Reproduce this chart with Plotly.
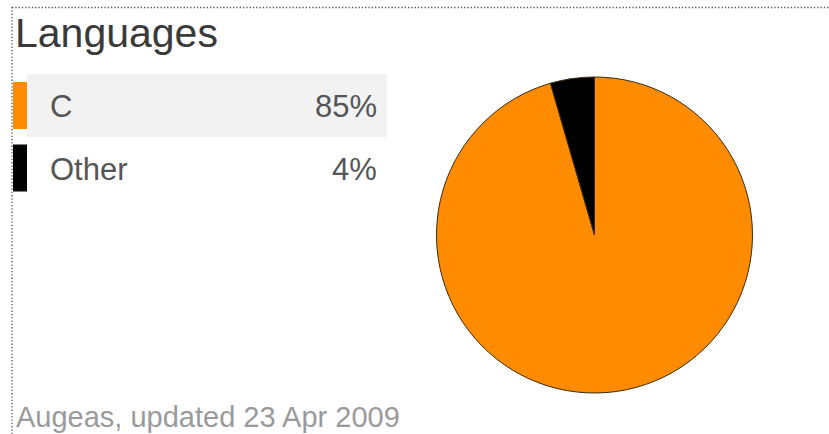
import plotly.graph_objects as go

# ---- data ----
languages = ["C", "Other"]
shares = [85, 4]
colors = ["#FF8C00", "#000000"]
title_text = "Languages"
footer_text = "Augeas, updated 23 Apr 2009"

W, H = 829, 434


def px(x):
    return x / W


def py(y):
    return 1 - y / H


FONT = "Liberation Sans, Arial, sans-serif"

fig = go.Figure()

fig.add_trace(go.Pie(
    labels=languages,
    values=shares,
    marker=dict(colors=colors, line=dict(color="#3a2a10", width=1)),
    sort=False,
    direction="clockwise",
    rotation=0,
    textinfo="none",
    hoverinfo="skip",
    showlegend=False,
    domain=dict(x=[px(436.5), px(752.5)], y=[py(393), py(77)]),
))

shapes = []
annotations = []

# dotted frame (top and left)
shapes.append(dict(type="line", xref="paper", yref="paper",
                   x0=px(12), x1=px(829), y0=py(7.5), y1=py(7.5),
                   line=dict(color="#555555", width=1.3, dash="1.3px,2px")))
shapes.append(dict(type="line", xref="paper", yref="paper",
                   x0=px(12), x1=px(12), y0=py(7), y1=py(434),
                   line=dict(color="#555555", width=1.3, dash="1.3px,2px")))

# legend rows
row0_center = 105.5
row_step = 62.5
for i, (lang, val, col) in enumerate(zip(languages, shares, colors)):
    c = row0_center + i * row_step
    if i == 0:
        shapes.append(dict(type="rect", xref="paper", yref="paper",
                           x0=px(27), x1=px(387), y0=py(c - 31.5), y1=py(c + 31.5),
                           fillcolor="#f2f2f2", line=dict(width=0), layer="below"))
    shapes.append(dict(type="rect", xref="paper", yref="paper",
                       x0=px(13), x1=px(27), y0=py(c - 23.5), y1=py(c + 23.5),
                       fillcolor=col, line=dict(width=0)))
    annotations.append(dict(text=lang, xref="paper", yref="paper",
                            x=px(48), y=py(c + 1), xanchor="left", yanchor="middle",
                            showarrow=False,
                            font=dict(family=FONT, size=31, color="#555555")))
    annotations.append(dict(text=f"{val}%", xref="paper", yref="paper",
                            x=px(379), y=py(c + 1), xanchor="right", yanchor="middle",
                            showarrow=False,
                            font=dict(family=FONT, size=31, color="#555555")))

annotations.append(dict(text=title_text, xref="paper", yref="paper",
                        x=px(13), y=py(33), xanchor="left", yanchor="middle",
                        showarrow=False,
                        font=dict(family=FONT, size=41, color="#3a3a3a")))
annotations.append(dict(text=footer_text, xref="paper", yref="paper",
                        x=px(14), y=py(417), xanchor="left", yanchor="middle",
                        showarrow=False,
                        font=dict(family=FONT, size=29, color="#9a9a9a")))

fig.update_layout(
    width=W, height=H,
    margin=dict(l=0, r=0, t=0, b=0),
    paper_bgcolor="white",
    plot_bgcolor="white",
    shapes=shapes,
    annotations=annotations,
    showlegend=False,
)

fig.write_html("out.html", config={"displayModeBar": False})
